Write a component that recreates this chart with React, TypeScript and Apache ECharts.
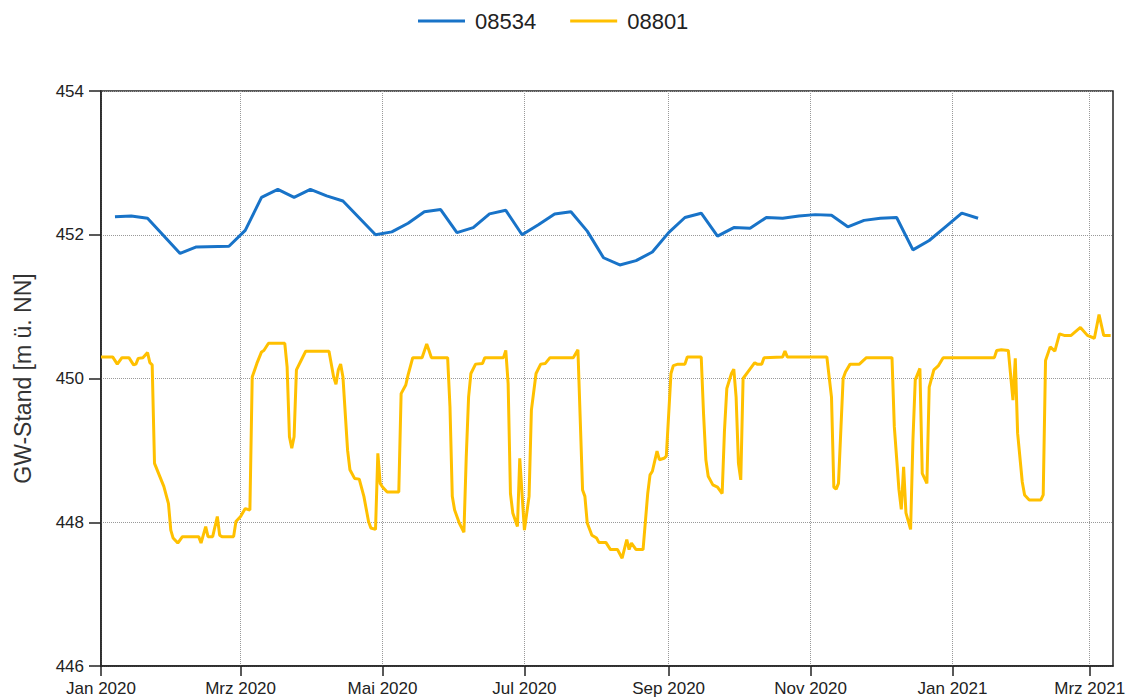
import React, { useEffect, useRef } from "react";
import * as echarts from "echarts";

// days are counted from 2020-01-01
const START_DATE = "2020-01-01";
const END_DATE = "2021-03-11";

const seriesNames = ["08534", "08801"];
const seriesColors = ["#1873c8", "#ffc000"];

const blueDays = [
  6, 13, 20, 34, 41, 55, 62, 69, 76, 83, 90, 97, 104, 118, 125, 132, 139, 146, 153, 160, 167, 174, 181,
  188, 195, 202, 209, 216, 223, 230, 237, 244, 251, 258, 265, 272, 279, 286, 293, 300, 307, 314, 321,
  328, 335, 342, 349, 356, 363, 370, 377,
];
const blueValues = [
  452.25, 452.26, 452.23, 451.74, 451.83, 451.84, 452.06, 452.52, 452.63, 452.52, 452.63, 452.54, 452.47,
  452.0, 452.04, 452.16, 452.32, 452.35, 452.03, 452.1, 452.29, 452.34, 452.0, 452.14, 452.29, 452.32,
  452.05, 451.68, 451.58, 451.64, 451.76, 452.03, 452.24, 452.3, 451.98, 452.1, 452.09, 452.24, 452.23,
  452.26, 452.28, 452.27, 452.11, 452.2, 452.23, 452.24, 451.79, 451.92, 452.11, 452.3, 452.23,
];

const yellowDays = [
  0, 5, 7, 9, 12, 14, 15, 16, 18, 20, 21, 22, 23, 25, 27, 29, 30, 31, 33, 35, 42, 43, 45, 46, 48, 50, 51,
  52, 57, 58, 60, 62, 64, 65, 67, 69, 70, 72, 79, 80, 81, 82, 83, 84, 86, 88, 98, 100, 101, 102, 103, 104,
  106, 107, 109, 111, 113, 115, 116, 118, 119, 120, 121, 123, 128, 129, 131, 132, 134, 138, 140, 141, 142,
  149, 150, 151, 152, 154, 156, 157, 158, 159, 161, 164, 165, 173, 174, 175, 176, 177, 179, 180, 182, 184,
  185, 187, 189, 191, 193, 203, 205, 207, 208, 209, 211, 213, 214, 217, 219, 222, 224, 226, 227, 228, 230,
  233, 235, 236, 237, 239, 240, 242, 243, 245, 246, 248, 251, 252, 258, 259, 260, 261, 263, 265, 267, 268,
  269, 271, 272, 273, 274, 275, 276, 278, 281, 282, 284, 285, 293, 294, 295, 312, 314, 315, 316, 317, 319,
  320, 322, 326, 329, 340, 341, 343, 344, 345, 346, 348, 349, 350, 352, 353, 355, 356, 358, 360, 362, 384,
  385, 387, 390, 392, 393, 394, 396, 397, 399, 404, 405, 406, 408, 410, 412, 414, 417, 421, 424, 427, 429,
  431, 434,
];
const yellowValues = [
  450.3, 450.3, 450.2, 450.29, 450.29, 450.19, 450.2, 450.28, 450.29, 450.36, 450.22, 450.19, 448.82,
  448.66, 448.5, 448.26, 447.89, 447.78, 447.71, 447.8, 447.8, 447.71, 447.94, 447.8, 447.8, 448.08,
  447.82, 447.8, 447.8, 448.01, 448.08, 448.19, 448.17, 450.02, 450.21, 450.37, 450.39, 450.49, 450.49,
  450.16, 449.19, 449.03, 449.19, 450.12, 450.25, 450.38, 450.38, 450.02, 449.92, 450.12, 450.2, 450.02,
  449.0, 448.73, 448.61, 448.6, 448.36, 448.01, 447.92, 447.9, 448.96, 448.54, 448.49, 448.42, 448.42,
  449.79, 449.91, 450.05, 450.29, 450.29, 450.48, 450.39, 450.29, 450.29, 449.61, 448.36, 448.17, 447.99,
  447.86, 448.91, 449.74, 450.07, 450.2, 450.21, 450.29, 450.29, 450.39, 449.93, 448.4, 448.13, 447.94,
  448.89, 447.89, 448.36, 449.56, 450.07, 450.2, 450.21, 450.29, 450.29, 450.4, 448.45, 448.36, 447.99,
  447.82, 447.78, 447.72, 447.72, 447.62, 447.62, 447.5, 447.76, 447.62, 447.71, 447.62, 447.62, 448.4,
  448.66, 448.71, 448.99, 448.87, 448.89, 448.92, 450.07, 450.18, 450.2, 450.2, 450.3, 450.3, 449.51,
  448.87, 448.64, 448.52, 448.49, 448.4, 449.28, 449.86, 450.07, 450.13, 449.74, 448.82, 448.59, 450.0,
  450.09, 450.22, 450.2, 450.2, 450.29, 450.3, 450.38, 450.3, 450.3, 449.74, 448.49, 448.46, 448.54,
  450.0, 450.09, 450.2, 450.2, 450.29, 450.29, 449.33, 448.45, 448.18, 448.77, 448.13, 447.9, 449.14,
  449.98, 450.14, 448.68, 448.54, 449.88, 450.12, 450.18, 450.29, 450.29, 450.39, 450.4, 450.39, 449.7,
  450.28, 449.24, 448.56, 448.38, 448.31, 448.31, 448.38, 450.25, 450.44, 450.38, 450.62, 450.6, 450.6,
  450.71, 450.6, 450.56, 450.89, 450.6, 450.6,
];

const tickDates = [
  "2020-01-01", "2020-03-01", "2020-05-01", "2020-07-01", "2020-09-01", "2020-11-01", "2021-01-01", "2021-03-01",
];
const tickLabels = ["Jan 2020", "Mrz 2020", "Mai 2020", "Jul 2020", "Sep 2020", "Nov 2020", "Jan 2021", "Mrz 2021"];

const yMin = 446;
const yMax = 454;
const yInterval = 2;
const yAxisName = "GW-Stand [m ü. NN]";

const DAY_MS = 86400000;
const parseDate = (s: string) => {
  const [y, m, d] = s.split("-").map(Number);
  return Date.UTC(y, m - 1, d);
};

const FONT = "'Liberation Sans', Arial, sans-serif";

export default function App() {
  const ref = useRef<HTMLDivElement>(null);

  useEffect(() => {
    if (!ref.current) return;
    const chart = echarts.init(ref.current, undefined, { renderer: "svg" });
    const start = parseDate(START_DATE);
    const tickValues = tickDates.map(parseDate);
    const blueData = blueDays.map((d, i) => [start + d * DAY_MS, blueValues[i]]);
    const yellowData = yellowDays.map((d, i) => [start + d * DAY_MS, yellowValues[i]]);

    chart.setOption({
      animation: false,
      backgroundColor: "#ffffff",
      textStyle: { fontFamily: FONT },
      legend: {
        data: seriesNames,
        left: 413,
        top: 5,
        icon: "rect",
        itemWidth: 47,
        itemHeight: 3,
        itemGap: 34,
        textStyle: { fontSize: 22, color: "#222", fontFamily: FONT, padding: [0, 0, 0, 5] },
      },
      grid: {
        left: 101,
        right: 23,
        top: 91,
        bottom: 34,
        show: true,
        borderColor: "#222",
        borderWidth: 1.5,
        backgroundColor: "transparent",
      },
      xAxis: {
        type: "value",
        min: start,
        max: parseDate(END_DATE),
        axisLine: { show: true, lineStyle: { color: "#222", width: 1.5 } },
        axisTick: { show: true, length: 10, customValues: tickValues, lineStyle: { color: "#222", width: 1.5 } },
        axisLabel: {
          customValues: tickValues,
          margin: 14,
          fontSize: 17,
          color: "#222",
          fontFamily: FONT,
          formatter: (v: number) => {
            const i = tickValues.indexOf(v);
            return i >= 0 ? tickLabels[i] : "";
          },
        },
        splitLine: { show: true, lineStyle: { type: "dotted", color: "#999", width: 1 } },
      },
      yAxis: {
        type: "value",
        min: yMin,
        max: yMax,
        interval: yInterval,
        name: yAxisName,
        nameLocation: "middle",
        nameGap: 67,
        nameTextStyle: { fontSize: 23, color: "#333", fontFamily: FONT },
        axisLine: { show: true, lineStyle: { color: "#222", width: 1.5 } },
        axisTick: { show: true, length: 12, lineStyle: { color: "#222", width: 1.5 } },
        axisLabel: { margin: 17, fontSize: 17, color: "#222", fontFamily: FONT },
        splitLine: { show: true, lineStyle: { type: "dotted", color: "#999", width: 1 } },
      },
      series: [
        {
          name: seriesNames[0],
          type: "line",
          data: blueData,
          showSymbol: false,
          color: seriesColors[0],
          lineStyle: { width: 3, color: seriesColors[0] },
        },
        {
          name: seriesNames[1],
          type: "line",
          data: yellowData,
          showSymbol: false,
          color: seriesColors[1],
          lineStyle: { width: 3, color: seriesColors[1] },
        },
      ],
    });
    return () => chart.dispose();
  }, []);

  return <div ref={ref} style={{ width: 1136, height: 700, position: "absolute", left: 0, top: 0 }} />;
}
